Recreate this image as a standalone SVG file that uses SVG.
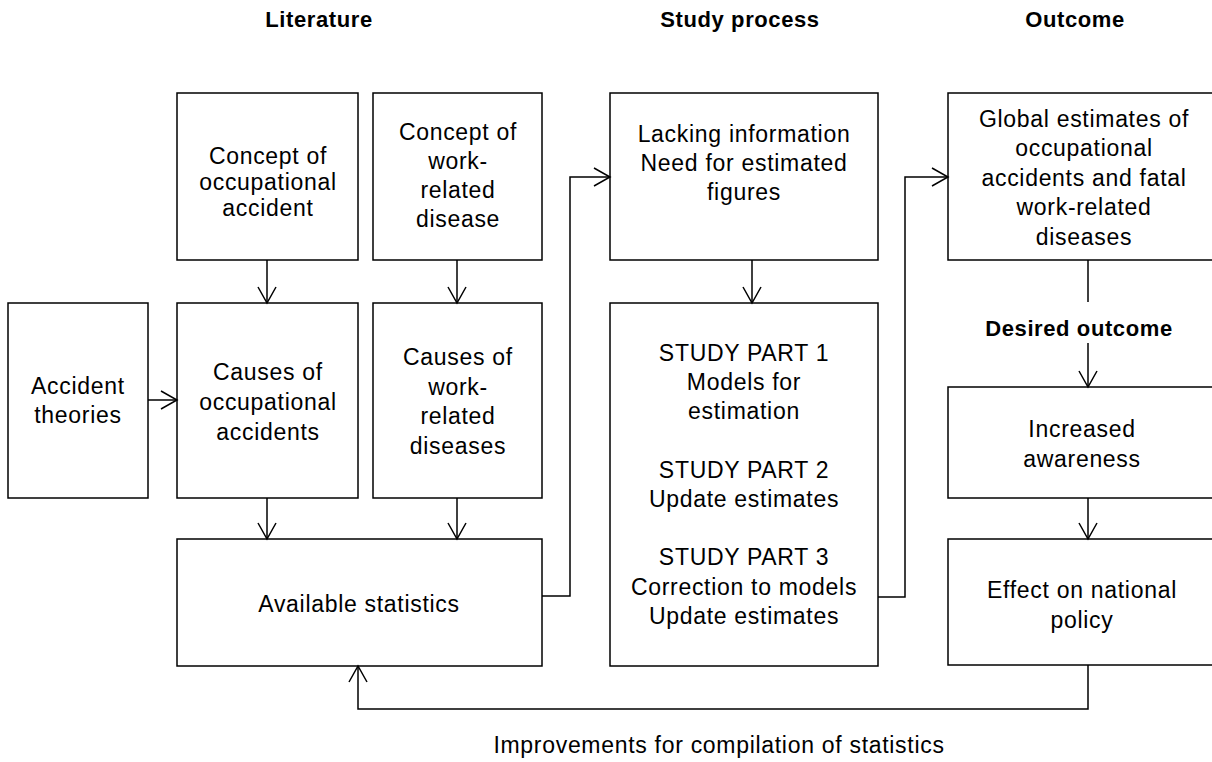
<svg xmlns="http://www.w3.org/2000/svg" width="1212" height="762" viewBox="0 0 1212 762">
<defs>
<style>
.box{fill:#fff;stroke:#000;stroke-width:1.5}
.t{font-family:"Liberation Sans",Arial,sans-serif;font-size:23px;letter-spacing:0.7px;text-anchor:middle;fill:#000}
.h{font-family:"Liberation Sans",Arial,sans-serif;font-size:22px;font-weight:bold;letter-spacing:0.6px;text-anchor:middle;fill:#000}
.c{fill:none;stroke:#000;stroke-width:1.5}
</style>
<marker id="arr" markerUnits="userSpaceOnUse" markerWidth="20" markerHeight="22" viewBox="-18 -11 20 22" refX="0" refY="0" orient="auto">
<path d="M-16,-9 L0,0 L-16,9" fill="none" stroke="#000" stroke-width="1.5"/>
</marker>
</defs>
<rect width="1212" height="762" fill="#fff"/>
<g id="headers">
<text class="h" x="319" y="27">Literature</text>
<text class="h" x="740" y="27">Study process</text>
<text class="h" x="1075" y="27">Outcome</text>
</g>
<g id="concept-accident">
<rect class="box" x="177" y="93" width="181" height="167"/>
<text class="t" x="268" y="164">Concept of</text>
<text class="t" x="268" y="190">occupational</text>
<text class="t" x="268" y="216">accident</text>
</g>
<g id="concept-disease">
<rect class="box" x="373" y="93" width="169" height="167"/>
<text class="t" x="458" y="140">Concept of</text>
<text class="t" x="458" y="169">work-</text>
<text class="t" x="458" y="198">related</text>
<text class="t" x="458" y="227">disease</text>
</g>
<g id="accident-theories">
<rect class="box" x="8" y="303" width="140" height="195"/>
<text class="t" x="78" y="394">Accident</text>
<text class="t" x="78" y="423">theories</text>
</g>
<g id="causes-accidents">
<rect class="box" x="177" y="303" width="181" height="195"/>
<text class="t" x="268" y="380">Causes of</text>
<text class="t" x="268" y="410">occupational</text>
<text class="t" x="268" y="440">accidents</text>
</g>
<g id="causes-diseases">
<rect class="box" x="373" y="303" width="169" height="195"/>
<text class="t" x="458" y="365">Causes of</text>
<text class="t" x="458" y="395">work-</text>
<text class="t" x="458" y="424">related</text>
<text class="t" x="458" y="454">diseases</text>
</g>
<g id="available-statistics">
<rect class="box" x="177" y="539" width="365" height="127"/>
<text class="t" x="359" y="612">Available statistics</text>
</g>
<g id="lacking-information">
<rect class="box" x="610" y="93" width="268" height="167"/>
<text class="t" x="744" y="142">Lacking information</text>
<text class="t" x="744" y="171">Need for estimated</text>
<text class="t" x="744" y="200">figures</text>
</g>
<g id="study-parts">
<rect class="box" x="610" y="303" width="268" height="363"/>
<text class="t" x="744" y="361">STUDY PART 1</text>
<text class="t" x="744" y="390">Models for</text>
<text class="t" x="744" y="419">estimation</text>
<text class="t" x="744" y="478">STUDY PART 2</text>
<text class="t" x="744" y="507">Update estimates</text>
<text class="t" x="744" y="565">STUDY PART 3</text>
<text class="t" x="744" y="595">Correction to models</text>
<text class="t" x="744" y="624">Update estimates</text>
</g>
<g id="global-estimates">
<rect class="box" x="948" y="93" width="280" height="167"/>
<text class="t" x="1084" y="127">Global estimates of</text>
<text class="t" x="1084" y="156">occupational</text>
<text class="t" x="1084" y="186">accidents and fatal</text>
<text class="t" x="1084" y="215">work-related</text>
<text class="t" x="1084" y="245">diseases</text>
</g>
<g id="desired-outcome">
<text class="h" x="1079" y="336">Desired outcome</text>
</g>
<g id="increased-awareness">
<rect class="box" x="948" y="387" width="280" height="111"/>
<text class="t" x="1082" y="437">Increased</text>
<text class="t" x="1082" y="467">awareness</text>
</g>
<g id="national-policy">
<rect class="box" x="948" y="539" width="280" height="126"/>
<text class="t" x="1082" y="598">Effect on national</text>
<text class="t" x="1082" y="628">policy</text>
</g>
<g id="improvements-label">
<text class="t" x="719" y="753">Improvements for compilation of statistics</text>
</g>
<g id="connectors">
<line class="c" x1="267" y1="260" x2="267" y2="303" marker-end="url(#arr)"/>
<line class="c" x1="457" y1="260" x2="457" y2="303" marker-end="url(#arr)"/>
<line class="c" x1="148" y1="400" x2="177" y2="400" marker-end="url(#arr)"/>
<line class="c" x1="267" y1="498" x2="267" y2="539" marker-end="url(#arr)"/>
<line class="c" x1="457" y1="498" x2="457" y2="539" marker-end="url(#arr)"/>
<polyline class="c" points="542,596 570,596 570,177 610,177" marker-end="url(#arr)"/>
<line class="c" x1="752" y1="260" x2="752" y2="303" marker-end="url(#arr)"/>
<polyline class="c" points="878,597 905,597 905,177 948,177" marker-end="url(#arr)"/>
<line class="c" x1="1088" y1="260" x2="1088" y2="302"/>
<line class="c" x1="1088" y1="343" x2="1088" y2="387" marker-end="url(#arr)"/>
<line class="c" x1="1088" y1="498" x2="1088" y2="539" marker-end="url(#arr)"/>
<polyline class="c" points="1088,665 1088,709 358,709 358,666" marker-end="url(#arr)"/>
</g>
</svg>
